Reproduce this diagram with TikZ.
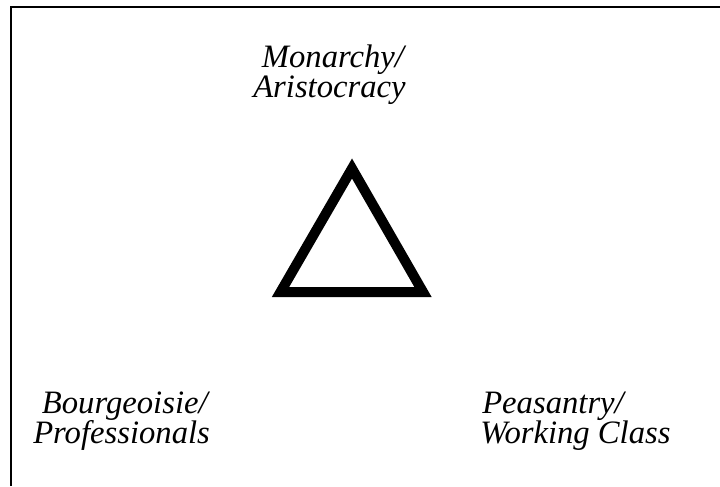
\documentclass[tikz,border=0pt]{standalone}
\usepackage{fontspec}
\setmainfont{Liberation Serif}
\usepackage{tikz}
\usetikzlibrary{positioning}

\tikzset{
  classlabel/.style={font=\fontsize{24.5}{22.5}\selectfont\itshape,align=left,anchor=base west,inner sep=0pt},
  frameline/.style={line width=1.5pt},
  pyramid/.style={line width=7.5pt,line join=miter}
}

\begin{document}
\begin{tikzpicture}[x=0.75pt,y=-0.75pt]
\useasboundingbox (0,0) rectangle (720,486);
% open frame: left side and top only
\draw[frameline] (11,486) -- (11,6.5) -- (720,6.5);
% the three estates (base = last line)
\node[classlabel] (monarchy) at (253,97) {\hspace{6.5pt}Monarchy/\\Aristocracy};
\node[classlabel] (bourgeois) at (33,443) {\hspace{6.5pt}Bourgeoisie/\\Professionals};
\node[classlabel] (peasants) at (480,443) {\hspace{1.5pt}Peasantry/\\Working Class};
% triangle in the middle
\draw[pyramid] (352,168.5) -- (423,292) -- (280.5,292) -- cycle;
\end{tikzpicture}
\end{document}
